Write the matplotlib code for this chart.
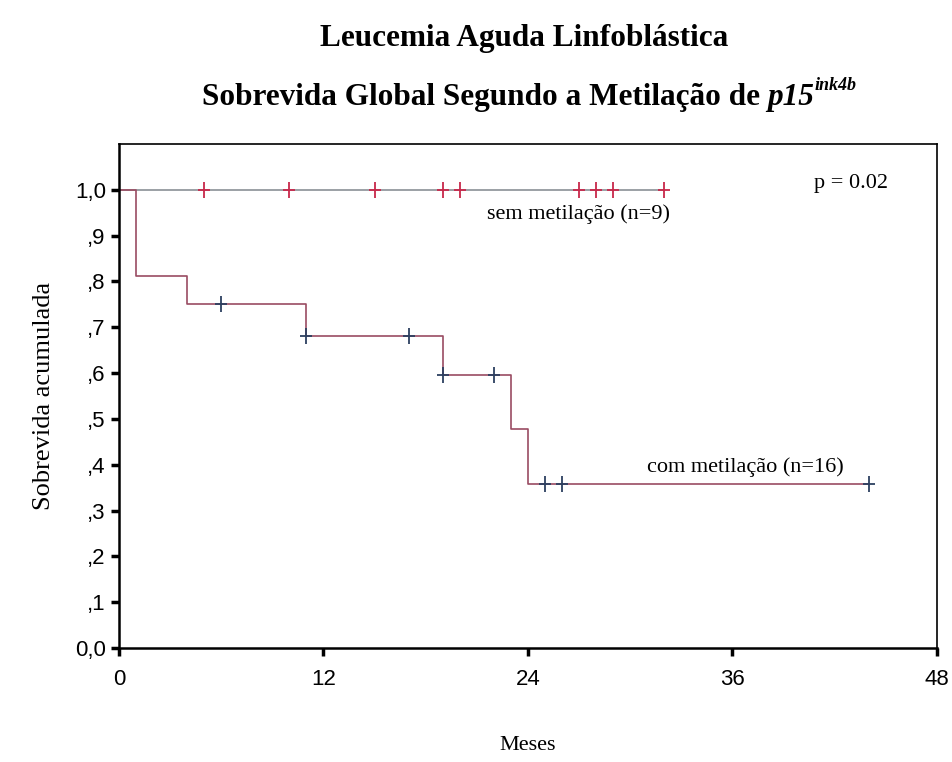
import matplotlib.pyplot as plt
import numpy as np

# Kaplan-Meier data (months)
sem_times = [0, 32]
sem_surv = [1.0, 1.0]
sem_censor = [5, 10, 15, 19, 20, 27, 28, 29, 32]

com_times = [0, 1, 4, 11, 19, 23, 24, 44]
com_surv = [1.0, 0.8125, 0.75, 0.6818, 0.5966, 0.4773, 0.3580, 0.3580]
com_censor = [6, 11, 17, 19, 22, 25, 26, 44]

xticks = [0, 12, 24, 36, 48]
yticks = [0.0, 0.1, 0.2, 0.3, 0.4, 0.5, 0.6, 0.7, 0.8, 0.9, 1.0]
ylabels = ['0,0', ',1', ',2', ',3', ',4', ',5', ',6', ',7', ',8', ',9', '1,0']

serif = 'Liberation Serif'
sans = 'Liberation Sans'

fig = plt.figure(figsize=(9.52, 7.62), dpi=100)
ax = fig.add_axes([0.125, 0.1496, 0.859, 0.6614])

# survival curves
ax.step(sem_times, sem_surv, where='post', color='#8a9096', lw=1.2)
ax.step(com_times, com_surv, where='post', color='#9a4c62', lw=1.2)


def surv_at(times, surv, t):
    idx = np.searchsorted(times, t, side='right') - 1
    return surv[idx]


sem_y = [surv_at(sem_times, sem_surv, t) for t in sem_censor]
com_y = [surv_at(com_times, com_surv, t) for t in com_censor]
ax.plot(sem_censor, sem_y, ls='none', marker='|', ms=11, mew=1.3, color='#c8284a')
ax.plot(sem_censor, sem_y, ls='none', marker='_', ms=9, mew=1.3, color='#c8284a')
ax.plot(com_censor, com_y, ls='none', marker='|', ms=11, mew=1.3, color='#2c4060')
ax.plot(com_censor, com_y, ls='none', marker='_', ms=9, mew=1.3, color='#2c4060')

ax.set_xlim(0, 48)
ax.set_ylim(0, 1.1)
ax.set_xticks(xticks)
ax.set_xticklabels([str(t) for t in xticks], fontfamily=sans, fontsize=16)
ax.set_yticks(yticks)
ax.set_yticklabels(ylabels, fontfamily=sans, fontsize=16)
ax.tick_params(direction='out', length=6, width=2.5, color='black')
ax.tick_params(axis='x', pad=9)
for side in ['left', 'bottom']:
    ax.spines[side].set_linewidth(1.8)
for side in ['top', 'right']:
    ax.spines[side].set_linewidth(1.2)

ax.set_ylabel('Sobrevida acumulada', fontfamily=serif, fontsize=19, labelpad=14)
ax.set_xlabel('Meses', fontfamily=serif, fontsize=16, labelpad=33)

ax.text(40.8, 1.013, 'p = 0.02', fontfamily=serif, fontsize=16, va='center')
ax.text(21.6, 0.948, 'sem metilação (n=9)', fontfamily=serif, fontsize=16, va='center')
ax.text(31.0, 0.395, 'com metilação (n=16)', fontfamily=serif, fontsize=16, va='center')

# titles
fig.text(0.551, 0.95, 'Leucemia Aguda Linfoblástica', fontfamily=serif,
         fontsize=22.5, fontweight='bold', ha='center', va='center')
t2 = fig.text(0.212, 0.862, 'Sobrevida Global Segundo a Metilação de ',
              fontfamily=serif, fontsize=22.5, fontweight='bold', ha='left', va='baseline')
t3 = ax.annotate('p15', xy=(1, 0), xycoords=t2, fontfamily=serif, fontsize=22.5,
                 fontweight='bold', fontstyle='italic', ha='left', va='bottom',
                 annotation_clip=False)
ax.annotate('ink4b', xy=(1, 0.62), xycoords=t3, fontfamily=serif, fontsize=13,
            fontweight='bold', fontstyle='italic', ha='left', va='bottom',
            annotation_clip=False)

fig.savefig('out.png', dpi=100)
